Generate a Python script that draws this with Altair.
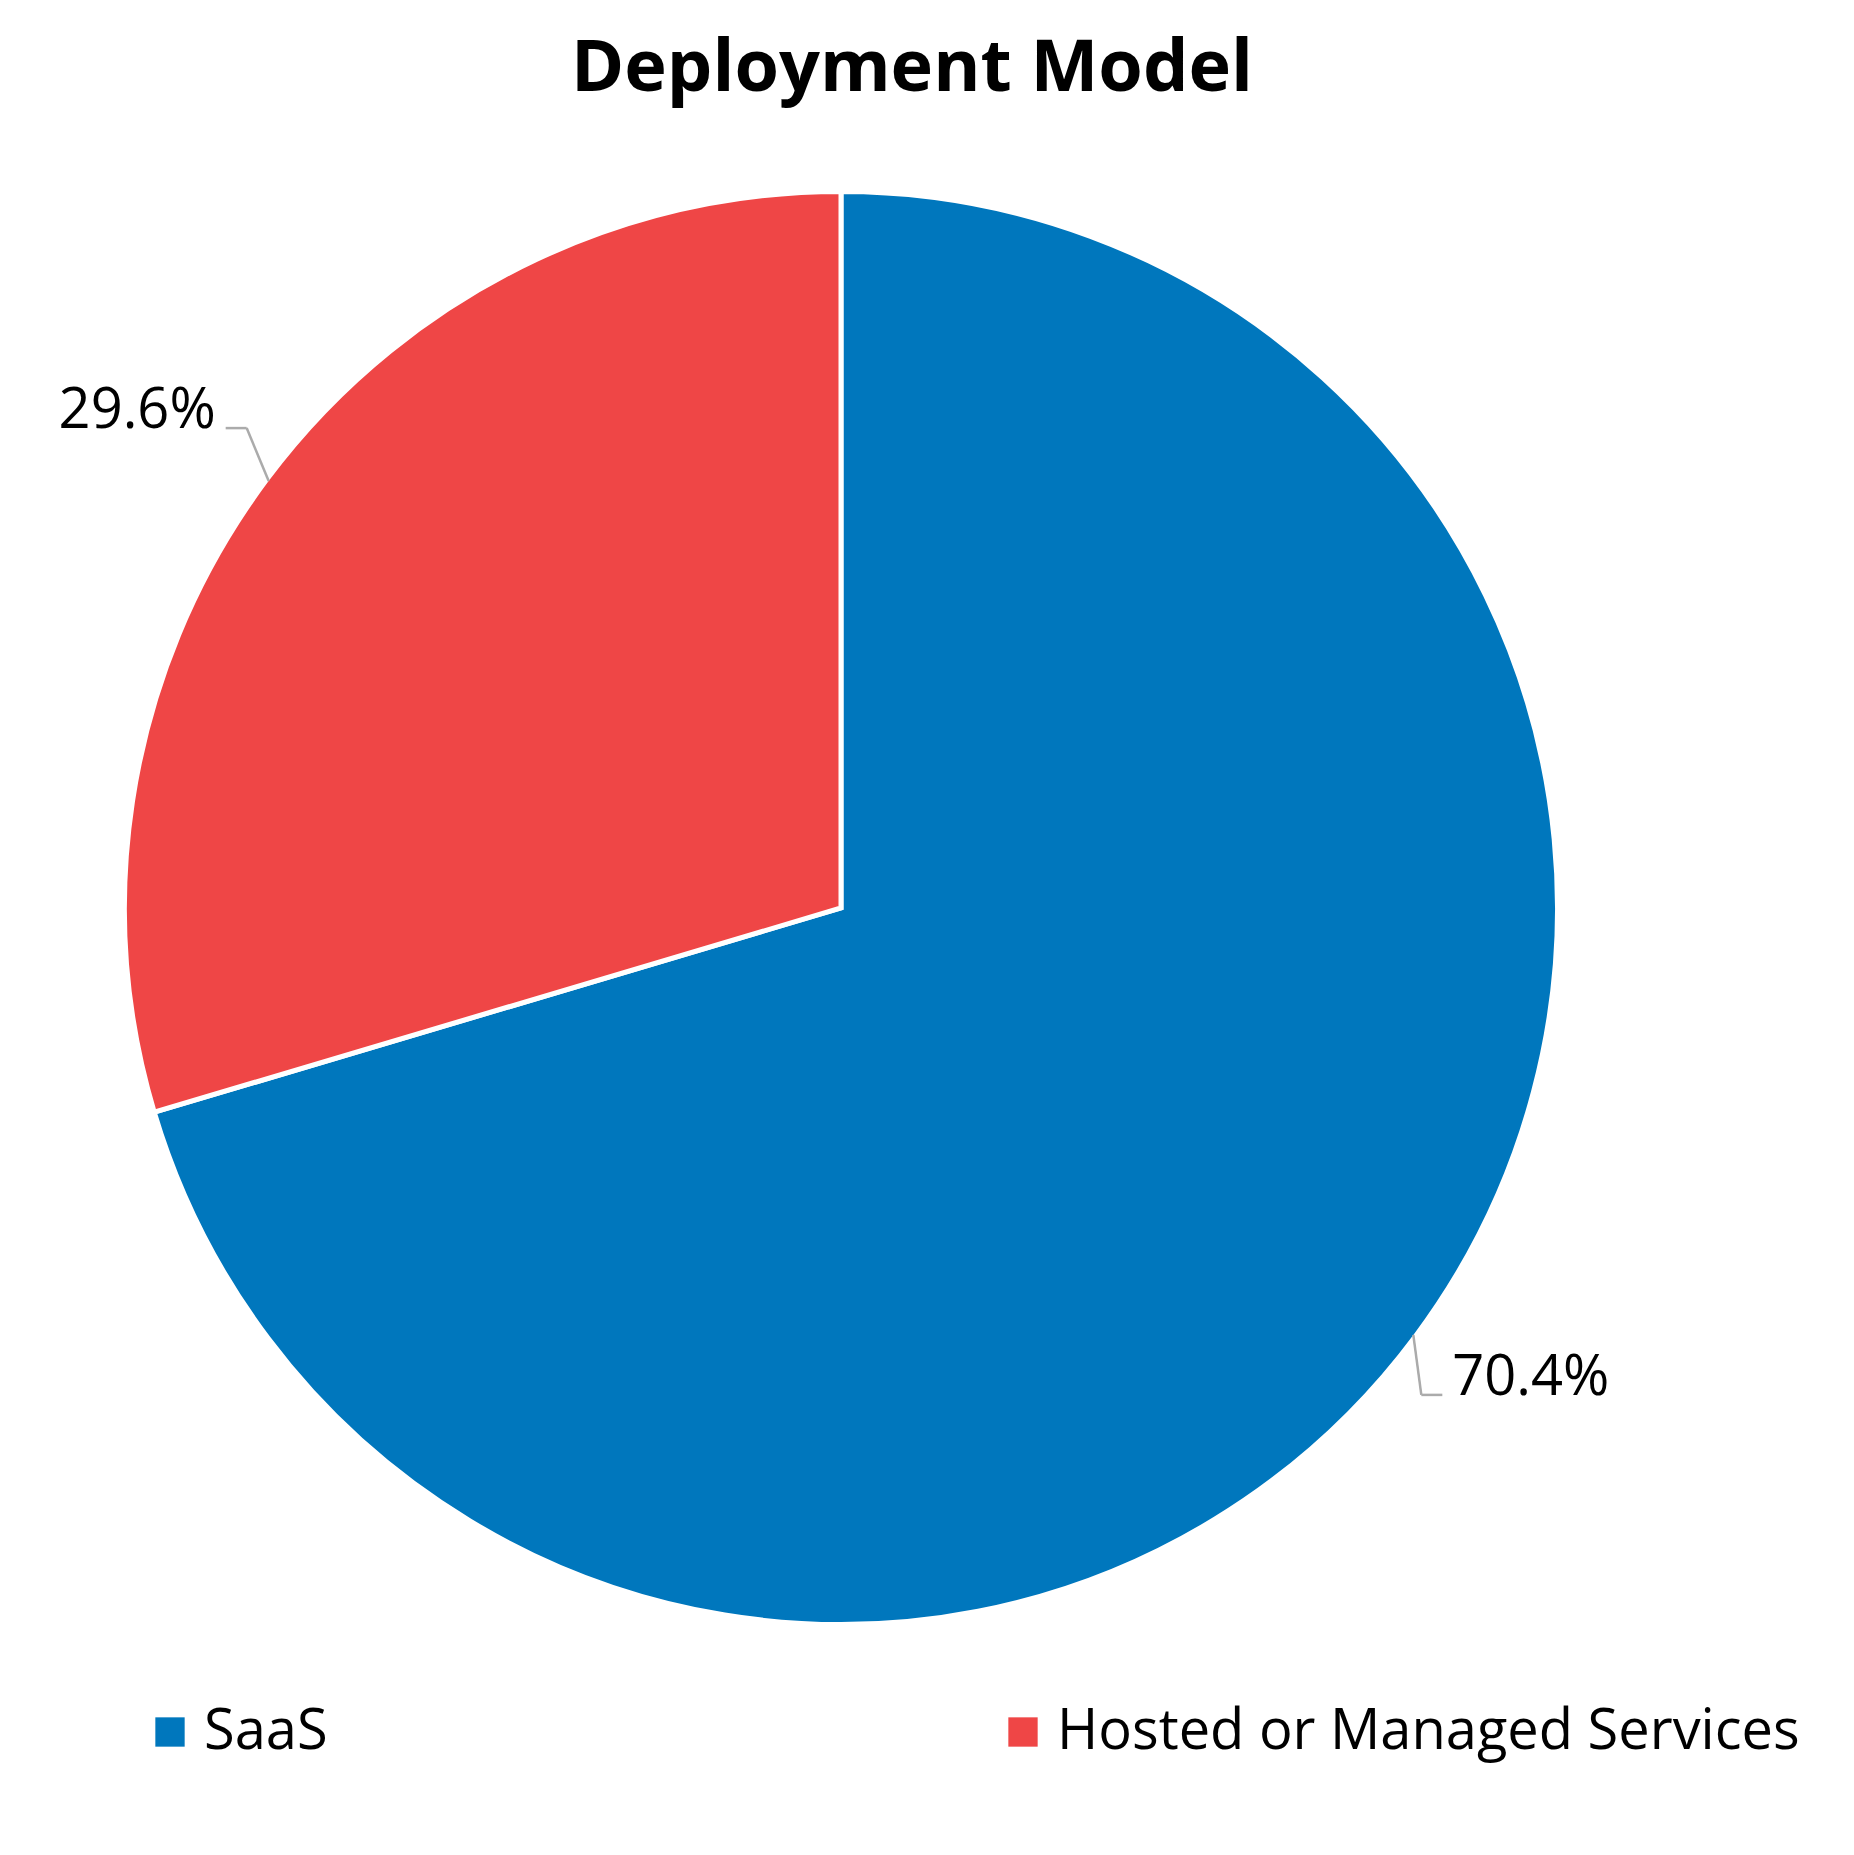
import altair as alt
import pandas as pd

# deployment model shares (percent)
CATEGORIES = ["SaaS", "Hosted or Managed Services"]
SHARES = [70.4, 29.6]
COLORS = ["#0077BD", "#EF4646"]

W, H = 1838, 1715
PAD_TOP = 120
CX, CY, R = 833, 780, 714
FONT = "Open Sans"

df = pd.DataFrame({"model": CATEGORIES, "share": SHARES, "idx": list(range(len(CATEGORIES)))})

x_scale = alt.Scale(domain=[0, W], range=[0, W])
y_scale = alt.Scale(domain=[0, H], range=[0, H])

base = alt.Chart(df)

pie = base.mark_arc(radius=R + 2.5, stroke="white", strokeWidth=5).encode(
    theta=alt.Theta("share:Q", stack=True),
    order=alt.Order("idx:Q"),
    color=alt.Color(
        "model:N",
        scale=alt.Scale(domain=CATEGORIES, range=COLORS),
        legend=alt.Legend(
            title=None,
            orient="none",
            legendX=134,
            legendY=1576,
            direction="horizontal",
            columns=2,
            columnPadding=667,
            symbolType="square",
            symbolSize=860,
            symbolStrokeWidth=0,
            labelFont=FONT,
            labelFontSize=56,
            labelColor="black",
            labelOffset=6,
            labelLimit=0,
            padding=0,
        ),
    ),
    x=alt.value(CX),
    y=alt.value(CY),
)

# leader-line geometry derived from the slice mid-angles
geo = (
    base.transform_window(cum="sum(share)", sort=[alt.SortField("idx")], frame=[None, 0])
    .transform_joinaggregate(total="sum(share)")
    .transform_calculate(mid="(datum.cum - datum.share / 2) / datum.total * 2 * PI")
    .transform_calculate(
        x0=f"{CX} + {R} * sin(datum.mid)",
        y0=f"{CY} - {R} * cos(datum.mid)",
        side="sin(datum.mid) >= 0 ? 1 : -1",
        vside="cos(datum.mid) >= 0 ? -1 : 1",
        pct="format(datum.share / datum.total, '.1%')",
    )
    .transform_calculate(
        x1="datum.x0 + (datum.side < 0 ? 22 : 8) * datum.side",
        y1="datum.y0 + (datum.vside < 0 ? 53 : 60) * datum.vside",
    )
    .transform_calculate(x2="datum.x1 + 21 * datum.side")
    .transform_calculate(lx="datum.x2 + 10 * datum.side")
)

leg1 = geo.mark_rule(color="#ABABAB", strokeWidth=2.5).encode(
    x=alt.X("x0:Q", scale=x_scale, axis=None),
    y=alt.Y("y0:Q", scale=y_scale, axis=None),
    x2="x1:Q",
    y2="y1:Q",
)
leg2 = geo.mark_rule(color="#ABABAB", strokeWidth=2.5).encode(
    x=alt.X("x1:Q", scale=x_scale, axis=None),
    x2="x2:Q",
    y=alt.Y("y1:Q", scale=y_scale, axis=None),
)

lab_right = geo.transform_filter("datum.side > 0").mark_text(
    align="left", baseline="alphabetic", font=FONT, fontSize=56, color="black"
).encode(
    x=alt.X("lx:Q", scale=x_scale, axis=None),
    y=alt.Y("y1:Q", scale=y_scale, axis=None),
    text="pct:N",
)
lab_left = geo.transform_filter("datum.side < 0").mark_text(
    align="right", baseline="alphabetic", font=FONT, fontSize=56, color="black"
).encode(
    x=alt.X("lx:Q", scale=x_scale, axis=None),
    y=alt.Y("y1:Q", scale=y_scale, axis=None),
    text="pct:N",
)

chart = (
    alt.layer(pie, leg1, leg2, lab_right, lab_left)
    .properties(
        width=W,
        height=H,
        autosize=alt.AutoSizeParams(type="none"),
        padding={"top": PAD_TOP, "left": 0, "right": 0, "bottom": 0},
        title=alt.Title(
            "Deployment Model",
            font=FONT,
            fontSize=72,
            fontWeight="bold",
            color="black",
            anchor="middle",
            dx=-15,
            offset=22,
        ),
    )
    .configure_view(stroke=None)
)

chart.save("out.html", embed_options={"renderer": "svg", "actions": False})
